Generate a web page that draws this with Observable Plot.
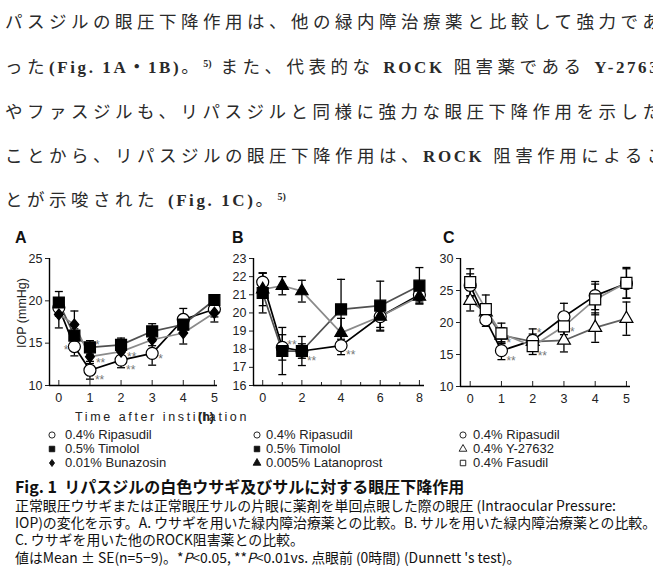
<!DOCTYPE html>
<html>
<head>
<meta charset="utf-8">
<script src="https://cdn.jsdelivr.net/npm/d3@7"></script>
<script src="https://cdn.jsdelivr.net/npm/@observablehq/plot@0.6"></script>
<style>
  html, body { margin: 0; padding: 0; background: #fff; }
  body { width: 653px; height: 582px; overflow: hidden; position: relative;
         font-family: "Liberation Sans", Arial, sans-serif; color: #222; }
  .abs { position: absolute; white-space: nowrap; }
  .para { left: 5px; font-family: "Liberation Serif", "Noto Sans CJK JP", serif;
          font-size: 17.5px; line-height: 24px; letter-spacing: 4.5px; color: #2a2a2a; }
  .para .lat { letter-spacing: 2.6px; font-weight: bold; font-size: 17px; }
  .para sup { font-size: 10px; letter-spacing: 0; vertical-align: 6px; line-height: 0; font-weight: bold; }
  .plabel { font: bold 16px "Liberation Sans", Arial, sans-serif; line-height: 18px; top: 229px; color: #111; }
  .ytitle { font-size: 12.5px; transform: translate(-50%, -50%) rotate(-90deg); color: #222; }
  .xtitle { font-size: 12.5px; letter-spacing: 2.6px; line-height: 16px; color: #222; }
  .xunit { font-size: 12.5px; font-weight: bold; line-height: 16px; color: #222; }
  .leg { font-size: 13px; line-height: 14px; color: #222; }
  .cap { left: 15px; font-family: "Noto Sans CJK JP", sans-serif; color: #111; }
  .capt { font-size: 16px; font-weight: bold; line-height: 18px; top: 477px; }
  .capb { font-size: 13.9px; line-height: 17px; }
  .panel { position: absolute; top: 240px; }
  g[aria-label="significance"] { letter-spacing: 1.5px; }
</style>
</head>
<body>
<script>
// ---- Panel A: rabbits, comparison with glaucoma drugs (IOP, mmHg) ----
const hoursA = [0, 0.5, 1, 2, 3, 4, 5];
const ripasudilA = [19.2, 14.6, 11.8, 13.0, 13.8, 17.8, 19.0];
const ripasudilA_se = [1.0, 1.1, 1.05, 0.9, 1.4, 1.3, 0.9];
const timololA = [19.8, 15.9, 14.5, 14.8, 16.4, 17.2, 20.1];
const timololA_se = [1.3, 0.8, 0.8, 0.8, 0.9, 1.0, 0.4];
const bunazosinA = [18.4, 17.2, 13.4, 14.0, 15.4, 16.2, 18.6];
const bunazosinA_se = [1.6, 1.6, 0.8, 0.6, 0.7, 1.3, 1.1];

// ---- Panel B: monkeys, comparison with glaucoma drugs ----
const hoursB = [0, 1, 2, 4, 6, 8];
const ripasudilB = [21.7, 18.1, 17.9, 18.2, 19.8, 21.0];
const ripasudilB_se = [0.5, 0.7, 0.4, 0.5, 0.6, 0.4];
const timololB = [21.1, 17.9, 17.9, 20.2, 20.4, 21.5];
const timololB_se = [1.1, 1.3, 0.8, 1.65, 1.35, 1.0];
const latanoprostB = [21.3, 21.5, 21.2, 18.9, 19.8, 20.9];
const latanoprostB_se = [0.9, 0.5, 0.6, 0.8, 0.8, 0.4];

// ---- Panel C: rabbits, comparison with other ROCK inhibitors ----
const hoursC = [0, 0.5, 1, 2, 3, 4, 5];
const ripasudilC = [25.8, 20.4, 15.6, 17.2, 20.9, 24.2, 26.1];
const ripasudilC_se = [1.8, 1.0, 1.4, 1.0, 2.1, 2.2, 2.3];
const y27632C = [23.4, 21.6, 18.0, 17.0, 17.2, 19.2, 20.6];
const y27632C_se = [1.6, 1.2, 1.2, 2.0, 1.8, 2.3, 2.6];
const fasudilC = [26.3, 22.1, 18.3, 16.3, 19.4, 23.6, 26.2];
const fasudilC_se = [2.1, 2.2, 1.6, 0.6, 1.3, 2.4, 2.4];

// Dunnett's test marks: series, hour, label, placement
const sigA = [
  ["Ripasudil", 0.5, "*", "left"],
  ["Timolol", 1, "*", "up"],
  ["Bunazosin", 1, "**", "right"],
  ["Ripasudil", 1, "**", "down"],
  ["Bunazosin", 2, "**", "right"],
  ["Ripasudil", 2, "**", "down"],
  ["Ripasudil", 3, "*", "right"]
];
const sigB = [
  ["Ripasudil", 1, "**", "up"],
  ["Timolol", 2, "**", "down"],
  ["Ripasudil", 4, "**", "down"]
];
const sigC = [
  ["Fasudil", 1, "*", "down"],
  ["Ripasudil", 1, "**", "down"],
  ["Ripasudil", 2, "*", "high"],
  ["Fasudil", 2, "**", "down"],
  ["Fasudil", 3, "*", "right"]
];

// Legend labels
const legendA = ["0.4% Ripasudil", "0.5% Timolol", "0.01% Bunazosin"];
const legendB = ["0.4% Ripasudil", "0.5% Timolol", "0.005% Latanoprost"];
const legendC = ["0.4% Ripasudil", "0.4% Y-27632", "0.4% Fasudil"];

// Custom symbols: error-bar cap and a tall diamond
const capSymbol = { draw(ctx) { ctx.moveTo(-4, 0); ctx.lineTo(4, 0); } };
const tallDiamond = { draw(ctx, size) {
  const s = Math.sqrt(size);
  ctx.moveTo(0, -0.62 * s); ctx.lineTo(0.5 * s, 0); ctx.lineTo(0, 0.62 * s); ctx.lineTo(-0.5 * s, 0); ctx.closePath();
} };

const placements = {
  left:  {dx: -6, dy: 4, textAnchor: "end"},
  up:    {dx: 5, dy: -2, textAnchor: "start"},
  high:  {dx: 4, dy: -7, textAnchor: "start"},
  right: {dx: 6, dy: 6, textAnchor: "start"},
  down:  {dx: 5, dy: 10, textAnchor: "start"}
};

function rowsOf(s) {
  return s.hours.map((t, i) => ({name: s.name, t, m: s.mean[i], se: s.se[i]}));
}

function panel(cfg) {
  const all = cfg.series.flatMap(rowsOf);
  const lookup = new Map(all.map(d => [d.name + "|" + d.t, d]));
  const sig = cfg.sig.map(([name, t, label, pos]) => ({...lookup.get(name + "|" + t), label, pos}));
  const [x0, x1] = cfg.xDomain, [y0, y1] = cfg.yDomain;
  const fmt = d => String(d);
  const marks = [
    // error bars
    Plot.ruleX(all, {x: "t", y1: d => d.m - d.se, y2: d => d.m + d.se, stroke: "#000", strokeWidth: 1.3}),
    Plot.dot(all, {x: "t", y: d => d.m - d.se, symbol: capSymbol, stroke: "#000", strokeWidth: 1.3}),
    Plot.dot(all, {x: "t", y: d => d.m + d.se, symbol: capSymbol, stroke: "#000", strokeWidth: 1.3}),
    // series lines
    ...cfg.series.map(s => Plot.line(rowsOf(s), {x: "t", y: "m", stroke: s.line, strokeWidth: 1.7})),
    // markers, in drawing order
    ...cfg.order.map(i => {
      const s = cfg.series[i];
      return Plot.dot(rowsOf(s), {x: "t", y: "m", symbol: s.symbol, r: s.r,
        fill: s.filled ? "#000" : "#fff", stroke: "#000", strokeWidth: 1.2});
    }),
    // significance marks
    ...Object.entries(placements).map(([pos, p]) =>
      Plot.text(sig.filter(d => d.pos === pos), {x: "t", y: "m", text: "label", ...p,
        fill: "#777", fontSize: 12, ariaLabel: "significance"})),
    // axes
    Plot.ruleX([x0], {y1: y0, y2: y1, stroke: "#000", strokeWidth: 1.4}),
    Plot.ruleY([y0], {x1: x0, x2: x1, stroke: "#000", strokeWidth: 1.4}),
    Plot.axisY({ticks: cfg.yTicks, tickFormat: fmt, tickSize: 4, tickPadding: 3, label: null, fontSize: 12.5}),
    Plot.axisX({ticks: cfg.xLabels, tickFormat: fmt, tickSize: 0, tickPadding: 8, label: null, fontSize: 12.5}),
    Plot.axisX({ticks: cfg.xLabels, tickSize: 5, dy: -5, tickFormat: () => "", label: null})
  ];
  if (cfg.xMinor) marks.push(Plot.axisX({ticks: cfg.xMinor, tickSize: 3, dy: -3, tickFormat: () => "", label: null}));
  const svg = Plot.plot({
    width: cfg.width, height: 170,
    marginTop: 18, marginBottom: cfg.marginBottom ?? 25,
    marginLeft: cfg.marginLeft, marginRight: cfg.marginRight,
    x: {domain: cfg.xDomain}, y: {domain: cfg.yDomain},
    style: {fontFamily: "Liberation Sans, Arial, sans-serif", color: "#222", background: "transparent", overflow: "visible"},
    marks
  });
  const holder = document.createElement("div");
  holder.className = "panel";
  holder.style.left = cfg.left + "px";
  holder.appendChild(svg);
  document.body.appendChild(holder);
}

panel({
  left: 0, width: 225, marginLeft: 49, marginRight: 8,
  xDomain: [-0.3, 5.1], yDomain: [10, 25], yTicks: [10, 15, 20, 25], xLabels: [0, 1, 2, 3, 4, 5],
  series: [
    {name: "Ripasudil", hours: hoursA, mean: ripasudilA, se: ripasudilA_se, line: "#000", symbol: "circle", r: 6, filled: false},
    {name: "Timolol", hours: hoursA, mean: timololA, se: timololA_se, line: "#505050", symbol: "square", r: 6.2, filled: true},
    {name: "Bunazosin", hours: hoursA, mean: bunazosinA, se: bunazosinA_se, line: "#8a8a8a", symbol: tallDiamond, r: 5, filled: true}
  ],
  order: [0, 2, 1], sig: sigA
});

panel({
  left: 220, width: 215, marginLeft: 33, marginRight: 11,
  xDomain: [-0.47, 8.26], yDomain: [16, 23], yTicks: [16, 17, 18, 19, 20, 21, 22, 23],
  xLabels: [0, 2, 4, 6, 8], xMinor: [1, 3, 5, 7],
  series: [
    {name: "Ripasudil", hours: hoursB, mean: ripasudilB, se: ripasudilB_se, line: "#000", symbol: "circle", r: 6, filled: false},
    {name: "Timolol", hours: hoursB, mean: timololB, se: timololB_se, line: "#505050", symbol: "square", r: 6.2, filled: true},
    {name: "Latanoprost", hours: hoursB, mean: latanoprostB, se: latanoprostB_se, line: "#8a8a8a", symbol: "triangle", r: 4.6, filled: true}
  ],
  order: [0, 2, 1], sig: sigB
});

panel({
  left: 425, width: 228, marginLeft: 35, marginRight: 23, marginBottom: 24,
  xDomain: [-0.31, 5.13], yDomain: [10, 30], yTicks: [10, 15, 20, 25, 30], xLabels: [0, 1, 2, 3, 4, 5],
  series: [
    {name: "Ripasudil", hours: hoursC, mean: ripasudilC, se: ripasudilC_se, line: "#000", symbol: "circle", r: 6, filled: false},
    {name: "Y-27632", hours: hoursC, mean: y27632C, se: y27632C_se, line: "#606060", symbol: "triangle", r: 4.8, filled: false},
    {name: "Fasudil", hours: hoursC, mean: fasudilC, se: fasudilC_se, line: "#909090", symbol: "square", r: 6.2, filled: false}
  ],
  order: [1, 0, 2], sig: sigC
});

// ---- surrounding text ----
function addDiv(cls, html, style) {
  const d = document.createElement("div");
  d.className = "abs " + cls;
  d.innerHTML = html;
  Object.assign(d.style, style);
  document.body.appendChild(d);
  return d;
}

const paraLines = [
  'パスジルの眼圧下降作用は、他の緑内障治療薬と比較して強力であ',
  'った<span class="lat">(Fig. 1A・1B)</span>。<sup>5)</sup> また、代表的な <span class="lat">ROCK</span> 阻害薬である <span class="lat">Y-27632</span>',
  'やファスジルも、リパスジルと同様に強力な眼圧下降作用を示した',
  'ことから、リパスジルの眼圧下降作用は、<span class="lat">ROCK</span> 阻害作用によるこ',
  'とが示唆された <span class="lat">(Fig. 1C)</span>。<sup>5)</sup>'
];
const paraTops = [10, 55, 100, 144, 188];
paraLines.forEach((t, i) => addDiv("para", t, {top: paraTops[i] + "px"}));

addDiv("plabel", "A", {left: "15px"});
addDiv("plabel", "B", {left: "232px"});
addDiv("plabel", "C", {left: "443px"});

addDiv("ytitle", "IOP (mmHg)", {left: "22px", top: "313px"});
addDiv("xtitle", "Time after instillation", {left: "75px", top: "409px"});
addDiv("xunit", "(h)", {left: "198px", top: "409px"});

// legends
const legDiamond = { draw(ctx, size) {
  const s = Math.sqrt(size);
  ctx.moveTo(0, -0.62 * s); ctx.lineTo(0.45 * s, 0); ctx.lineTo(0, 0.62 * s); ctx.lineTo(-0.45 * s, 0); ctx.closePath();
} };
function legend(labels, symbols, filled, symX, textX) {
  const tops = [428, 442, 456];
  labels.forEach((lab, i) => {
    const svg = d3.create("svg").attr("width", 10).attr("height", 10)
      .style("left", (symX - 5) + "px").style("top", (tops[i] + 2) + "px").style("position", "absolute");
    const sizes = {circle: 30, square: 30, triangle: 26, diamond: 32};
    const key = symbols[i] === d3.symbolCircle ? "circle" : symbols[i] === d3.symbolSquare ? "square"
      : symbols[i] === d3.symbolTriangle ? "triangle" : "diamond";
    svg.append("path")
      .attr("transform", "translate(5,5)")
      .attr("d", d3.symbol(symbols[i], sizes[key])())
      .attr("fill", filled[i] ? "#111" : "#fff").attr("stroke", "#111").attr("stroke-width", 0.9);
    document.body.appendChild(svg.node());
    addDiv("leg", lab, {left: textX + "px", top: tops[i] + "px"});
  });
}
legend(legendA, [d3.symbolCircle, d3.symbolSquare, legDiamond], [false, true, true], 52, 65);
legend(legendB, [d3.symbolCircle, d3.symbolSquare, d3.symbolTriangle], [false, true, true], 257, 266);
legend(legendC, [d3.symbolCircle, d3.symbolTriangle, d3.symbolSquare], [false, false, false], 463, 473);

// caption
addDiv("cap capt", "Fig. 1&nbsp;&nbsp;リパスジルの白色ウサギ及びサルに対する眼圧下降作用", {});
const capLines = [
  "正常眼圧ウサギまたは正常眼圧サルの片眼に薬剤を単回点眼した際の眼圧 (Intraocular Pressure:",
  "IOP)の変化を示す。A. ウサギを用いた緑内障治療薬との比較。B. サルを用いた緑内障治療薬との比較。",
  "C. ウサギを用いた他のROCK阻害薬との比較。",
  "値はMean ± SE(n=5−9)。*<i>P</i>&lt;0.05, **<i>P</i>&lt;0.01vs. 点眼前 (0時間) (Dunnett 's test)。"
];
const capTops = [496.5, 513.5, 530.5, 548.5];
capLines.forEach((t, i) => addDiv("cap capb", t, {top: capTops[i] + "px"}));
</script>
</body>
</html>
